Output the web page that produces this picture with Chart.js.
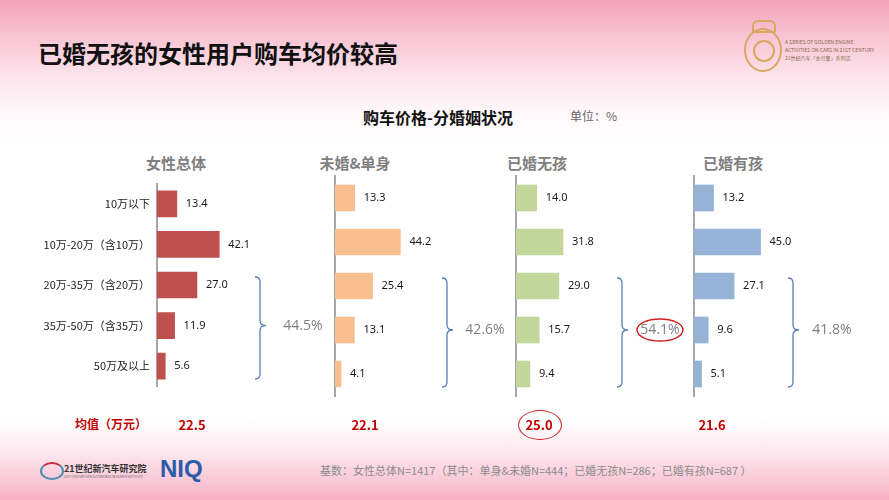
<!DOCTYPE html>
<html><head><meta charset="utf-8">
<script src="https://cdn.jsdelivr.net/npm/chart.js@4.4.1/dist/chart.umd.min.js"></script>
<style>
html,body{margin:0;padding:0;}
body{width:889px;height:500px;position:relative;overflow:hidden;
 background:linear-gradient(180deg,#f4a3bd 0px,#f8c3d3 35px,#fce3eb 75px,#fff7f9 110px,#ffffff 140px,#ffffff 420px,#fdeaf0 450px,#f9c9d7 480px,#f5b0c5 500px);
 font-family:"Noto Sans CJK SC","Noto Sans",sans-serif;}
.abs{position:absolute;white-space:nowrap;}
canvas{position:absolute;}
.ptitle{font-weight:bold;font-size:15px;color:#7f7f7f;transform:translateX(-50%);top:152px;}
.mean{font-weight:bold;font-size:13px;color:#c00000;top:415px;transform:translateX(-50%);font-family:"Liberation Sans Narrow","Noto Sans CJK SC",sans-serif;}
</style></head><body>
<div class="abs" style="left:38px;top:35px;font-size:24px;font-weight:bold;color:#111;">已婚无孩的女性用户购车均价较高</div>
<!-- top-right emblem -->
<div class="abs" style="left:744px;top:28px;width:34px;height:40px;border:2px solid #d6a860;border-radius:50%;"></div>
<div class="abs" style="left:753px;top:40px;width:18px;height:18px;border:2px solid #d6a860;border-radius:50%;"></div>
<div class="abs" style="left:752px;top:20px;width:20px;height:9px;border:2px solid #d6a860;border-radius:6px 6px 2px 2px;"></div>
<div class="abs" style="left:785px;top:38px;font-size:5px;line-height:8px;color:#8a6a50;">A SERIES OF GOLDEN ENGINE<br>ACTIVITIES ON CARS IN 21ST CENTURY<br>21世纪汽车「金引擎」系列活</div>

<div class="abs" style="left:363px;top:105px;font-size:16px;font-weight:bold;color:#111;">购车价格-分婚姻状况</div>
<div class="abs" style="left:570px;top:107px;font-size:12px;color:#666;">单位：%</div>

<div id="ptitles"></div>
<canvas id="c0" width="340" height="230"></canvas>
<canvas id="c1" width="280" height="230"></canvas>
<canvas id="c2" width="280" height="230"></canvas>
<canvas id="c3" width="280" height="230"></canvas>

<div class="abs" style="left:75px;top:415px;font-size:12px;font-weight:bold;color:#c00000;">均值（万元）</div>
<div id="means"></div>
<div class="abs" style="left:518px;top:410px;width:42px;height:28px;border:1.5px solid #d02020;border-radius:50%;"></div>

<!-- footer logos -->
<div class="abs" style="left:40px;top:462px;width:20px;height:14px;border-radius:50%;border:2px solid #4a8fb0;border-top-color:#c03040;"></div>
<div class="abs" style="left:64px;top:462px;font-size:9px;font-weight:bold;color:#333;">21世纪新汽车研究院</div>
<div class="abs" style="left:64px;top:475px;font-size:3px;color:#666;">21ST CENTURY NEW AUTOMOBILE RESEARCH INSTITUTE</div>
<div class="abs" style="left:160px;top:455px;font-size:24px;font-weight:bold;color:#2a5ca8;font-family:'Liberation Sans',sans-serif;">NIQ</div>
<div class="abs" style="left:320px;top:462px;font-size:11px;color:#8c8c8c;">基数：女性总体N=1417（其中：单身&amp;未婚N=444；已婚无孩N=286；已婚有孩N=687 ）</div>

<script>
const categories = ['10万以下','10万-20万（含10万）','20万-35万（含20万）','35万-50万（含35万）','50万及以上'];
const groups = ['女性总体','未婚&单身','已婚无孩','已婚有孩'];
const totalValues = [13.4, 42.1, 27.0, 11.9, 5.6];
const singleValues = [13.3, 44.2, 25.4, 13.1, 4.1];
const marriedNoKidValues = [14.0, 31.8, 29.0, 15.7, 9.4];
const marriedKidValues = [13.2, 45.0, 27.1, 9.6, 5.1];
const above20Share = ['44.5%', '42.6%', '54.1%', '41.8%'];
const meanPrices = ['22.5', '22.1', '25.0', '21.6'];

const seriesList = [totalValues, singleValues, marriedNoKidValues, marriedKidValues];
const colors = ['#c0504d', '#f9bf8f', '#c3d69b', '#95b3d7'];
const axisX = [157, 335, 516, 694];
const titleX = [176, 355, 537, 733];
const meanX = [192, 365, 539, 712];
const bracketDx = [98, 107, 101, 94];
const pctDx = [146, 150, 144, 138];

const pt = document.getElementById('ptitles');
groups.forEach((g,i)=>{
  const d=document.createElement('div');d.className='abs ptitle';d.style.left=titleX[i]+'px';d.textContent=g;pt.appendChild(d);
});
const mn = document.getElementById('means');
meanPrices.forEach((m,i)=>{
  const d=document.createElement('div');d.className='abs mean';d.style.left=meanX[i]+'px';d.textContent=m;mn.appendChild(d);
});

const labelPlugin = {
  id:'valLabels',
  afterDatasetsDraw(chart){
    const ctx=chart.ctx;
    const meta=chart.getDatasetMeta(0);
    const ds=chart.data.datasets[0].data;
    ctx.save();
    ctx.font='11px "Noto Sans","Liberation Sans",sans-serif';
    ctx.fillStyle='#1a1a1a';ctx.textAlign='left';ctx.textBaseline='middle';
    meta.data.forEach((b,i)=>{ctx.fillText(ds[i].toFixed(1), b.x+9, b.y);});
    ctx.restore();
  }
};
const bracketPlugin = {
  id:'bracket',
  afterDraw(chart,args,opts){
    const ctx=chart.ctx;
    const meta=chart.getDatasetMeta(0);
    const ax=chart.chartArea.left;
    const top=meta.data[2].y-8, bot=meta.data[4].y+13, mid=meta.data[3].y;
    const x0=ax+opts.dx, xv=x0+5, xt=x0+11;
    ctx.save();
    ctx.strokeStyle='#5a7fb2';ctx.lineWidth=1.3;
    ctx.beginPath();
    ctx.moveTo(x0,top);ctx.quadraticCurveTo(xv,top,xv,top+5);
    ctx.lineTo(xv,mid-5);ctx.quadraticCurveTo(xv,mid,xt,mid);
    ctx.quadraticCurveTo(xv,mid,xv,mid+5);
    ctx.lineTo(xv,bot-5);ctx.quadraticCurveTo(xv,bot,x0,bot);
    ctx.stroke();
    const tx=ax+opts.tdx;
    ctx.font='14px "Open Sans","Noto Sans",sans-serif';
    ctx.fillStyle='#7f7f7f';ctx.textAlign='center';ctx.textBaseline='middle';
    ctx.fillText(opts.text,tx,mid);
    if(opts.circle){
      ctx.strokeStyle='#d02020';ctx.lineWidth=1.4;
      ctx.beginPath();ctx.ellipse(tx,mid,23,11,0,0,Math.PI*2);ctx.stroke();
    }
    ctx.restore();
  }
};

seriesList.forEach((vals,i)=>{
  const first = i===0;
  const yW = first ? 157 : 20;
  const cv = document.getElementById('c'+i);
  cv.style.left=(axisX[i]-yW)+'px';
  cv.style.top='170px';
  const W = cv.width;
  new Chart(cv,{
    type:'bar',
    data:{labels:categories,datasets:[{data:vals,backgroundColor:colors[i],barThickness:26}]},
    options:{
      indexAxis:'y',responsive:false,animation:false,devicePixelRatio:1,
      layout:{padding:{top:6,bottom:4,left:0,right:W-yW-100}},
      plugins:{legend:{display:false},tooltip:{enabled:false},
        bracket:{dx:bracketDx[i],tdx:pctDx[i],text:above20Share[i],circle:i===2}},
      scales:{
        x:{display:false,min:0,max:67.6},
        y:{grid:{color:'rgba(0,0,0,0)',drawTicks:false},
           border:{display:true,color:'#a6a6a6',width:2},
           ticks:{display:first,color:'#222',padding:7,font:{size:11,family:'"Noto Sans CJK SC",sans-serif'}},
           afterFit(s){s.width=yW;}}
      }
    },
    plugins:[labelPlugin,bracketPlugin]
  });
});
</script>
</body></html>
